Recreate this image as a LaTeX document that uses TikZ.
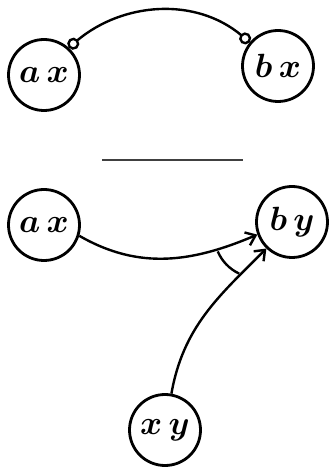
\documentclass[tikz,border=0pt]{standalone}
\usetikzlibrary{arrows.meta}
\newcommand{\statelabel}[1]{\scalebox{1.35}{\boldmath$#1$}}
\begin{document}
\begin{tikzpicture}[x=1pt,y=1pt,
  state/.style={circle,draw,line width=2.8pt,minimum size=71pt,inner sep=0pt,
    font=\Huge},
  link/.style={line width=2.4pt},
  ring/.style={{Circle[open,length=12pt,width=12pt,fill=white]}-{Circle[open,length=12pt,width=12pt,fill=white]}},
  barb/.style={-{Straight Barb[length=9pt,width=14pt]}},
  rule/.style={black!75,line width=1.2pt}]
\useasboundingbox (0,0) rectangle (329,468);

% upper figure: two states joined by a ring-ended arc
\node[state] (ax1) at (44,393) {\statelabel{a\,x}};
\node[state] (bx)  at (278,402) {\statelabel{b\,x}};
\draw[link,ring] (ax1.48) to[out=40,in=140] (bx.140);

% separator
\coordinate (sepL) at (102,308);
\coordinate (sepR) at (243,308);
\draw[rule] (sepL) -- (sepR);

% lower figure: two arrows meeting at by, with an angle mark
\node[state] (ax2) at (44,243) {\statelabel{a\,x}};
\node[state] (by)  at (292,246) {\statelabel{b\,y}};
\node[state] (xy)  at (165,38) {\statelabel{x\,y}};
\draw[link,barb] (ax2.-17) to[out=-30,in=203] (by.200);
\draw[link,barb] (xy.80) to[out=80,in=225] (by.226);
\draw[link] (by.200) ++(203:43) arc[start angle=203,end angle=245,radius=43];
\end{tikzpicture}
\end{document}
